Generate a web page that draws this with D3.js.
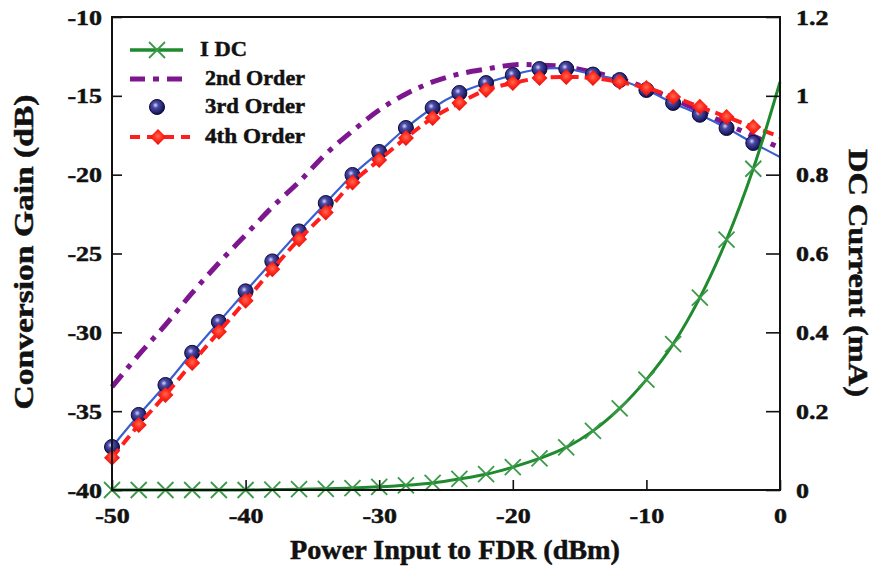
<!DOCTYPE html>
<html><head><meta charset="utf-8">
<script src="https://cdn.jsdelivr.net/npm/d3@7"></script>
<style>
body{margin:0;background:#fff;}
svg text{font-family:"Liberation Serif","Times New Roman",serif;font-weight:bold;fill:#111;stroke:#111;stroke-width:0.5px;}
</style></head>
<body><svg id="c" width="874" height="573"></svg>
<script>
// ---------- data ----------
const powerIn = [-50,-48,-46,-44,-42,-40,-38,-36,-34,-32,-30,-28,-26,-24,-22,-20,-18,-16,-14,-12,-10,-8,-6,-4,-2,0];
const idc = [0,0,0,0,0,0,0.001,0.002,0.003,0.005,0.008,0.012,0.018,0.028,0.040,0.058,0.080,0.108,0.150,0.207,0.280,0.370,0.488,0.635,0.815,1.035];
const order2 = [-33.46,-31.43,-29.53,-27.5,-25.6,-23.82,-22.05,-20.46,-18.69,-17.23,-15.9,-14.88,-14.12,-13.61,-13.3,-13.04,-13.04,-13.17,-13.49,-13.93,-14.5,-15.2,-15.96,-16.79,-17.55,-18.3];
const order3 = [-37.27,-35.24,-33.34,-31.3,-29.34,-27.4,-25.5,-23.6,-21.8,-20.02,-18.56,-17.04,-15.77,-14.82,-14.19,-13.68,-13.3,-13.28,-13.65,-14.0,-14.63,-15.45,-16.2,-17.04,-17.99,-18.88];
const order4 = [-37.96,-35.87,-33.97,-31.94,-29.97,-28.0,-26.0,-24.1,-22.4,-20.5,-19.07,-17.67,-16.4,-15.45,-14.63,-14.19,-13.87,-13.8,-13.87,-14.12,-14.5,-15.07,-15.7,-16.34,-16.97,-17.6];
const xTicks = [-50,-40,-30,-20,-10,0];
const yLTicks = [-40,-35,-30,-25,-20,-15,-10];
const yRTicks = [0,0.2,0.4,0.6,0.8,1,1.2];
const legendNames = ["I DC","2nd Order","3rd Order","4th Order"];

// ---------- setup ----------
const svg = d3.select("#c");
const L=112,R=780,T=17,B=490;
const x = d3.scaleLinear().domain([-50,0]).range([L,R]);
const yL = d3.scaleLinear().domain([-40,-10]).range([B,T]);
const yR = d3.scaleLinear().domain([0,1.2]).range([B,T]);

const defs = svg.append("defs");
const cg = defs.append("radialGradient").attr("id","ball").attr("cx","40%").attr("cy","38%").attr("r","65%");
cg.append("stop").attr("offset","0%").attr("stop-color","#d8d8ff");
cg.append("stop").attr("offset","30%").attr("stop-color","#4a4aa8");
cg.append("stop").attr("offset","100%").attr("stop-color","#0c0c48");
const dg = defs.append("radialGradient").attr("id","dia").attr("cx","50%").attr("cy","45%").attr("r","60%");
dg.append("stop").attr("offset","0%").attr("stop-color","#ff6a50");
dg.append("stop").attr("offset","50%").attr("stop-color","#ff2418");
dg.append("stop").attr("offset","100%").attr("stop-color","#d01010");

const pts = arr => powerIn.map((p,i)=>[p,arr[i]]);
const lineL = d3.line().x(d=>x(d[0])).y(d=>yL(d[1])).curve(d3.curveCatmullRom);
const lineR = d3.line().x(d=>x(d[0])).y(d=>yR(d[1])).curve(d3.curveCatmullRom);

const plot = svg.append("g");
// 2nd order
plot.append("path").attr("d",lineL(pts(order2))).attr("fill","none")
  .attr("stroke","#7d168f").attr("stroke-width",5).attr("stroke-dasharray","16,8,5,8");
// 3rd order line
plot.append("path").attr("d",lineL(pts(order3))).attr("fill","none")
  .attr("stroke","#3a5ed0").attr("stroke-width",2.2);
const m3 = pts(order3).slice(0,-1);
plot.selectAll(".c3").data(m3).enter().append("circle")
  .attr("cx",d=>x(d[0])).attr("cy",d=>yL(d[1])).attr("r",7.5)
  .attr("fill","url(#ball)").attr("stroke","#0a0a3a").attr("stroke-width",1);
// 4th order
plot.append("path").attr("d",lineL(pts(order4))).attr("fill","none")
  .attr("stroke","#ff1e1e").attr("stroke-width",4).attr("stroke-dasharray","11,6");
const m4 = pts(order4).slice(0,-1);
const dsz=8;
const diamond = (cx,cy,s)=>`M${cx},${cy-s}L${cx+s},${cy}L${cx},${cy+s}L${cx-s},${cy}Z`;
plot.selectAll(".d4").data(m4).enter().append("path")
  .attr("d",d=>diamond(x(d[0]),yL(d[1]),dsz)).attr("fill","url(#dia)");
// IDC
plot.append("path").attr("d",lineR(pts(idc))).attr("fill","none")
  .attr("stroke","#1f8a2e").attr("stroke-width",3);
const mI = pts(idc).slice(0,-1);
const cross=(cx,cy,s)=>`M${cx-s},${cy-s}L${cx+s},${cy+s}M${cx-s},${cy+s}L${cx+s},${cy-s}`;
plot.selectAll(".xi").data(mI).enter().append("path")
  .attr("d",d=>cross(x(d[0]),yR(d[1]),8)).attr("stroke","#3a9a48").attr("stroke-width",1.8).attr("fill","none");

// ---------- axes ----------
const fmt = d=>String(d);
const ax = svg.append("g");
ax.append("rect").attr("x",L).attr("y",T).attr("width",R-L).attr("height",B-T)
  .attr("fill","none").attr("stroke","#111").attr("stroke-width",2);
const gL = ax.append("g").attr("transform",`translate(${L},0)`)
  .call(d3.axisLeft(yL).tickValues(yLTicks).tickFormat(fmt).tickSizeInner(-10).tickSizeOuter(0).tickPadding(12));
const gB = ax.append("g").attr("transform",`translate(0,${B})`)
  .call(d3.axisBottom(x).tickValues(xTicks).tickFormat(fmt).tickSizeInner(-10).tickSizeOuter(0).tickPadding(17));
const gR = ax.append("g").attr("transform",`translate(${R},0)`)
  .call(d3.axisRight(yR).tickValues(yRTicks).tickFormat(fmt).tickSizeInner(-14).tickSizeOuter(0).tickPadding(28));
function stretch(sel, f){
  sel.each(function(){
    const n=this.getComputedTextLength();
    d3.select(this).attr("textLength",n*f).attr("lengthAdjust","spacingAndGlyphs");
  });
}
[gL,gB,gR].forEach(g=>{
  g.select(".domain").remove();
  g.selectAll(".tick line").attr("stroke","#111").attr("stroke-width",1.6);
  g.selectAll(".tick text").style("font-size","22px").style("font-family","Liberation Serif, serif").style("font-weight","bold")
    .attr("fill","#111").attr("stroke","#111").attr("stroke-width",0.6);
  stretch(g.selectAll(".tick text"),1.18);
});
gL.selectAll(".tick text").attr("dx","2");
gR.selectAll(".tick text").attr("dx","-12");

// titles
function title(x0,y0,rot,txt,len){
  svg.append("text").attr("transform",`translate(${x0},${y0}) rotate(${rot})`).attr("text-anchor","middle")
    .attr("dominant-baseline","middle").style("font-size","27px").attr("stroke-width",0.7)
    .attr("textLength",len).attr("lengthAdjust","spacingAndGlyphs").text(txt);
}
title(27,252,-90,"Conversion Gain (dB)",315);
title(855,273,90,"DC Current (mA)",248);
title(455,553,0,"Power Input to FDR (dBm)",330);

// ---------- legend ----------
const lg = svg.append("g");
const ly = [50,79,107,137];
const lx = [200,205,205,205];
lg.append("line").attr("x1",130).attr("x2",183).attr("y1",ly[0]).attr("y2",ly[0]).attr("stroke","#1f8a2e").attr("stroke-width",3.5);
lg.append("path").attr("d",cross(157,ly[0],8)).attr("stroke","#3a9a48").attr("stroke-width",1.8);
lg.append("line").attr("x1",130).attr("x2",183).attr("y1",ly[1]).attr("y2",ly[1]).attr("stroke","#7d168f").attr("stroke-width",5).attr("stroke-dasharray","15,8,6,8");
lg.append("circle").attr("cx",157).attr("cy",ly[2]).attr("r",7.5).attr("fill","url(#ball)").attr("stroke","#0a0a3a").attr("stroke-width",1);
lg.append("line").attr("x1",130).attr("x2",190).attr("y1",ly[3]).attr("y2",ly[3]).attr("stroke","#ff1e1e").attr("stroke-width",4).attr("stroke-dasharray","10,7");
lg.append("path").attr("d",diamond(158,ly[3],8)).attr("fill","url(#dia)");
const legW=[47,100,100,100];
legendNames.forEach((n,i)=>{
  lg.append("text").attr("x",lx[i]).attr("y",ly[i]+1).attr("dominant-baseline","middle")
    .style("font-size","22px").attr("textLength",legW[i]).attr("lengthAdjust","spacingAndGlyphs").text(n);
});
</script></body></html>
